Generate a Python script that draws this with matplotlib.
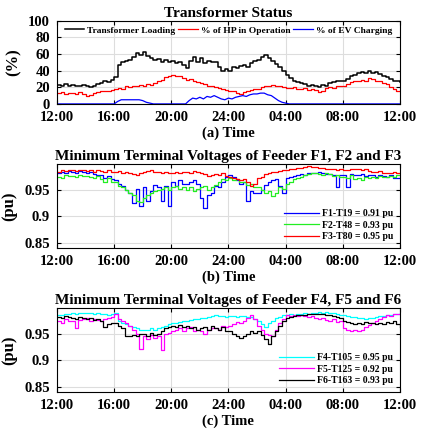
import numpy as np
import matplotlib
matplotlib.use('Agg')
import matplotlib.pyplot as plt

# 15-minute samples from 12:00 to 12:00 next day (97 points)
tick_labels = ['12:00', '16:00', '20:00', '24:00', '04:00', '08:00', '12:00']

# ---- (a) transformer status, %
trafo_loading = [
    23, 21, 24, 22,  23, 21, 22, 23,  21, 20, 22, 24,  25, 27, 26, 29,
    32, 47, 50, 52,  53, 57, 61, 59,  62, 58, 55, 53,  54, 51, 53, 50,
    52, 49, 51, 47,  43, 52, 57, 51,  55, 49, 52, 50,  51, 44, 40, 42,
    40, 44, 43, 46,  47, 45, 49, 52,  53, 56, 59, 55,  52, 48, 45, 40,
    35, 31, 28, 26,  25, 24, 22, 23,  21, 20, 23, 22,  25, 26, 27, 28,
    28, 30, 33, 35,  37, 38, 37, 40,  37, 38, 36, 34,  32, 30, 28, 27,
    26]
hp_operation = [
    13, 14, 12, 13,  13, 12, 14, 12,  10, 11, 13, 14,  15, 16, 15, 17,
    18, 19, 18, 21,  20, 22, 21, 23,  22, 24, 23, 25,  27, 29, 32, 34,
    35, 33, 34, 31,  29, 30, 27, 26,  25, 24, 22, 21,  20, 19, 18, 17,
    16, 15, 13, 12,  14, 15, 17, 18,  18, 20, 21, 22,  23, 22, 21, 20,
    19, 19, 20, 18,  18, 19, 17, 18,  17, 14, 16, 19,  20, 19, 21, 22,
    22, 24, 26, 27,  28, 29, 27, 31,  30, 28, 27, 25,  24, 20, 18, 16,
    16]
ev_charging = [
    0, 0, 0, 0,  0, 0, 0, 0,  0, 0, 0, 0,  0, 0, 0, 0,
    0, 3, 5, 5,  5, 5, 5, 5,  4, 2, 1, 0,  0, 0, 0, 0,
    0, 0, 0, 0,  0, 4, 7, 6,  8, 6, 9, 8,  10, 8, 6, 5,
    7, 6, 8, 9,  10, 9, 11, 12,  12, 13, 13, 11,  10, 7, 4, 2,
    1, 0, 0, 0,  0, 0, 0, 0,  0, 0, 0, 0,  0, 0, 0, 0,
    0, 0, 0, 0,  0, 0, 0, 0,  0, 0, 0, 0,  0, 0, 0, 0,
    0]

# ---- (b) feeders F1-F3, pu
f1_t19 = [
    .983, .985, .982, .986,  .985, .983, .986, .984,  .982, .984, .980, .979,  .978, .972, .976, .970,
    .968, .962, .958, .950,  .945, .925, .952, .920,  .955, .930, .948, .960,  .955, .930, .958, .920,
    .965, .958, .968, .962,  .962, .966, .968, .962,  .935, .915, .940, .945,  .958, .955, .966, .975,
    .978, .975, .968, .962,  .965, .930, .948, .945,  .945, .950, .960, .966,  .968, .970, .958, .945,
    .972, .975, .976, .978,  .980, .978, .982, .983,  .983, .985, .982, .980,  .980, .978, .955, .978,
    .978, .955, .980, .978,  .978, .980, .976, .978,  .978, .975, .979, .976,  .975, .978, .973, .972,
    .972]
f2_t48 = [
    .975, .972, .978, .976,  .977, .974, .978, .976,  .977, .975, .973, .976,  .970, .966, .972, .965,
    .965, .958, .955, .950,  .945, .940, .930, .928,  .935, .940, .945, .948,  .950, .952, .955, .950,
    .955, .958, .952, .956,  .950, .955, .948, .952,  .955, .958, .950, .956,  .960, .965, .970, .968,
    .972, .968, .970, .965,  .965, .960, .962, .955,  .955, .950, .945, .948,  .938, .945, .955, .952,
    .962, .966, .970, .972,  .975, .978, .980, .982,  .983, .980, .978, .982,  .980, .976, .978, .974,
    .975, .972, .978, .970,  .972, .968, .975, .972,  .975, .972, .976, .974,  .975, .977, .974, .978,
    .978]
f3_t80 = [
    .985, .987, .986, .988,  .987, .986, .988, .987,  .986, .987, .985, .987,  .986, .985, .987, .984,
    .985, .986, .983, .985,  .982, .980, .979, .983,  .984, .986, .988, .985,  .985, .983, .984, .982,
    .983, .985, .982, .984,  .985, .983, .986, .984,  .982, .980, .977, .979,  .980, .978, .982, .976,
    .975, .972, .970, .968,  .970, .965, .958, .962,  .972, .975, .980, .982,  .985, .984, .986, .987,
    .988, .989, .990, .991,  .992, .994, .995, .993,  .993, .992, .991, .990,  .990, .989, .988, .989,
    .988, .987, .989, .990,  .990, .988, .989, .986,  .985, .984, .986, .983,  .983, .982, .984, .982,
    .983]

# ---- (c) feeders F4-F6, pu
f4_t105 = [
    .985, .986, .987, .988,  .989, .988, .990, .989,  .989, .990, .988, .989,  .987, .988, .986, .987,
    .990, .975, .970, .968,  .965, .962, .960, .958,  .958, .957, .960, .958,  .960, .962, .965, .968,
    .970, .971, .972, .974,  .975, .976, .978, .977,  .980, .979, .982, .984,  .985, .983, .984, .982,
    .983, .984, .982, .983,  .983, .981, .982, .978,  .975, .968, .963, .970,  .975, .980, .982, .985,
    .985, .987, .986, .988,  .988, .989, .988, .990,  .990, .991, .990, .991,  .990, .989, .988, .986,
    .985, .983, .982, .981,  .980, .979, .978, .980,  .980, .981, .983, .984,  .985, .986, .987, .988,
    .988]
f5_t125 = [
    .975, .970, .978, .975,  .975, .960, .976, .978,  .980, .975, .978, .976,  .975, .977, .980, .982,
    .988, .978, .975, .970,  .965, .958, .950, .922,  .945, .940, .948, .942,  .945, .920, .950, .952,
    .955, .958, .960, .956,  .960, .962, .955, .958,  .955, .950, .958, .960,  .960, .958, .965, .962,
    .965, .968, .972, .970,  .975, .980, .986, .978,  .965, .958, .950, .948,  .945, .958, .970, .978,
    .985, .983, .986, .984,  .985, .983, .982, .984,  .980, .978, .979, .976,  .975, .978, .972, .974,
    .960, .957, .955, .958,  .955, .958, .962, .966,  .970, .975, .978, .982,  .985, .983, .987, .988,
    .990]
f6_t163 = [
    .982, .980, .983, .981,  .980, .978, .981, .979,  .978, .980, .976, .977,  .975, .962, .968, .970,
    .970, .965, .960, .945,  .945, .948, .946, .950,  .950, .945, .952, .948,  .950, .955, .960, .962,
    .965, .962, .966, .963,  .965, .960, .962, .958,  .960, .962, .958, .964,  .960, .958, .962, .956,
    .955, .950, .945, .942,  .945, .950, .955, .952,  .955, .948, .940, .930,  .945, .955, .965, .975,
    .980, .982, .984, .985,  .985, .986, .987, .988,  .988, .987, .988, .986,  .985, .984, .982, .980,
    .975, .972, .970, .968,  .970, .968, .972, .970,  .970, .968, .971, .969,  .972, .970, .974, .968,
    .962]

hours = np.arange(len(trafo_loading)) * 0.25

plt.rcParams['font.family'] = 'Liberation Serif'
plt.rcParams['font.weight'] = 'bold'
plt.rcParams['axes.labelweight'] = 'bold'
plt.rcParams['axes.titleweight'] = 'bold'

fig = plt.figure(figsize=(4.25, 4.33), dpi=100)
ax1 = fig.add_axes([0.134, 0.760, 0.807, 0.192])
ax2 = fig.add_axes([0.134, 0.427, 0.807, 0.194])
ax3 = fig.add_axes([0.134, 0.095, 0.807, 0.194])


def style_axis(ax, title, xlabel, ylabel):
    ax.set_xlim(0, 24)
    ax.set_xticks(np.arange(0, 25, 4))
    ax.set_xticklabels(tick_labels)
    ax.grid(True, color='#dddddd', linewidth=0.8)
    ax.set_axisbelow(True)
    ax.tick_params(direction='in', top=True, right=True, labelsize=10.5, length=3, pad=5)
    for s in ax.spines.values():
        s.set_linewidth(0.8)
    ax.set_title(title, fontsize=11, pad=3)
    ax.set_xlabel(xlabel, fontsize=10.5, labelpad=2)
    ax.set_ylabel(ylabel, fontsize=12, labelpad=5)


ax1.plot(hours, trafo_loading, color='black', lw=1.1, drawstyle='steps-post', label='Transformer Loading')
ax1.plot(hours, hp_operation, color='red', lw=0.9, drawstyle='steps-post', label='% of HP in Operation')
ax1.plot(hours, ev_charging, color='blue', lw=0.9, label='% of EV Charging')
ax1.set_ylim(0, 100)
ax1.set_yticks([0, 20, 40, 60, 80, 100])
style_axis(ax1, 'Transformer Status', '(a) Time', '(%)')
ax1.legend(loc='upper center', ncol=3, fontsize=6.8, frameon=False, handlelength=2.1,
           columnspacing=0.3, handletextpad=0.3, borderaxespad=0.15, bbox_to_anchor=(0.5, 1.0))

ax2.plot(hours, f1_t19, color='blue', lw=0.9, drawstyle='steps-post', label='F1-T19 = 0.91 pu')
ax2.plot(hours, f2_t48, color='#22ee22', lw=0.9, drawstyle='steps-post', label='F2-T48 = 0.93 pu')
ax2.plot(hours, f3_t80, color='red', lw=0.9, drawstyle='steps-post', label='F3-T80 = 0.95 pu')
ax2.set_ylim(0.84, 0.999)
ax2.set_yticks([0.85, 0.9, 0.95])
ax2.set_yticklabels(['0.85', '0.9', '0.95'])
style_axis(ax2, 'Minimum Terminal Voltages of Feeder F1, F2 and F3', '(b) Time', '(pu)')
ax2.legend(loc='lower right', fontsize=7, frameon=False, handlelength=3.6,
           handletextpad=0.3, labelspacing=0.25, borderaxespad=0.3)

ax3.plot(hours, f4_t105, color='cyan', lw=0.9, drawstyle='steps-post', label='F4-T105 = 0.95 pu')
ax3.plot(hours, f5_t125, color='magenta', lw=0.9, drawstyle='steps-post', label='F5-T125 = 0.92 pu')
ax3.plot(hours, f6_t163, color='black', lw=0.9, drawstyle='steps-post', label='F6-T163 = 0.93 pu')
ax3.set_ylim(0.84, 0.999)
ax3.set_yticks([0.85, 0.9, 0.95])
ax3.set_yticklabels(['0.85', '0.9', '0.95'])
style_axis(ax3, 'Minimum Terminal Voltages of Feeder F4, F5 and F6', '(c) Time', '(pu)')
ax3.legend(loc='lower right', fontsize=7, frameon=False, handlelength=3.6,
           handletextpad=0.3, labelspacing=0.25, borderaxespad=0.3)

fig.savefig('out.png', dpi=100)
